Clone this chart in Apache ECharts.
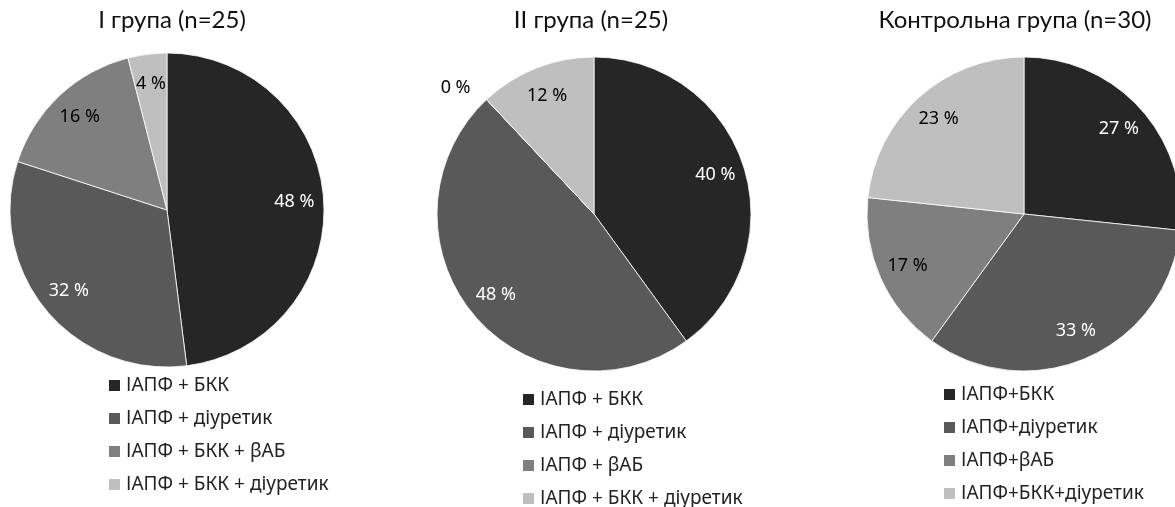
<!DOCTYPE html>
<html>
<head>
<meta charset="utf-8">
<script src="https://cdn.jsdelivr.net/npm/echarts@6/dist/echarts.min.js"></script>
<style>
  html, body { margin: 0; padding: 0; background: #fff; }
  #chart { width: 1175px; height: 507px; }
</style>
</head>
<body>
<div id="chart"></div>
<script>
var titles = ['I група (n=25)', 'II група (n=25)', 'Контрольна група (n=30)'];

var names1 = ['ІАПФ + БКК', 'ІАПФ + діуретик', 'ІАПФ + БКК + βАБ', 'ІАПФ + БКК + діуретик'];
var names2 = ['ІАПФ + БКК', 'ІАПФ + діуретик', 'ІАПФ + βАБ', 'ІАПФ + БКК + діуретик'];
var names3 = ['ІАПФ+БКК', 'ІАПФ+діуретик', 'ІАПФ+βАБ', 'ІАПФ+БКК+діуретик'];

// patient counts per group
var values1 = [12, 8, 4, 1];
var values2 = [10, 12, 0, 3];
var values3 = [8, 10, 5, 7];

var colors = ['#262626', '#595959', '#7f7f7f', '#bfbfbf'];
var labelColors = ['#fff', '#fff', '#000', '#000'];

var groups = [
	{ names: names1, values: values1, center: [167, 210], titleX: 172, legendX: 107, legendY: 376 },
	{ names: names2, values: values2, center: [594, 214], titleX: 591, legendX: 521, legendY: 390 },
	{ names: names3, values: values3, center: [1024, 214], titleX: 1015, legendX: 942, legendY: 385 }
];
var R = 157;

var myChart = echarts.init(document.getElementById('chart'));

var series = [];
var title = [];
var legend = [];

groups.forEach(function (g, i) {
	series.push({
		type: 'pie',
		center: g.center,
		radius: [0, R],
		startAngle: 90,
		clockwise: true,
		label: { show: false },
		labelLine: { show: false },
		itemStyle: { borderColor: '#fff', borderWidth: 0.8 },
		emphasis: { disabled: true },
		data: g.names.map(function (n, k) {
			return { name: n, value: g.values[k], itemStyle: { color: colors[k] } };
		})
	});
	title.push({
		text: titles[i],
		left: g.titleX,
		top: 8,
		padding: 0,
		textAlign: 'center',
		textStyle: { fontFamily: 'Lato', fontWeight: 'normal', fontSize: 24, color: '#111' }
	});
	legend.push({
		orient: 'vertical',
		left: g.legendX,
		top: g.legendY,
		height: 160,
		padding: 0,
		icon: 'rect',
		itemWidth: 13,
		itemHeight: 13,
		itemGap: 14,
		selectedMode: false,
		data: g.names,
		textStyle: { fontFamily: 'Noto Sans', fontSize: 19, color: '#222' }
	});
});

// label rings, placed near the outer part of each slice
groups.forEach(function (g, i) {
	series.push({
		type: 'pie',
		center: g.center,
		radius: [92, R],
		startAngle: 90,
		clockwise: true,
		silent: true,
		percentPrecision: 0,
		itemStyle: { color: 'transparent' },
		emphasis: { disabled: true },
		labelLine: { show: false },
		label: {
			show: true,
			position: 'inside',
			formatter: '{d} %',
			fontFamily: 'Noto Sans',
			fontSize: 18
		},
		data: g.names.map(function (n, k) {
			var item = { name: n, value: g.values[k], label: { color: labelColors[k] } };
			if (g.values[k] === 0) {
				item.label = { color: '#000', position: 'outside' };
				item.labelLine = { show: false, length: 16, length2: 0 };
			}
			return item;
		})
	});
});

myChart.setOption({
	animation: false,
	title: title,
	legend: legend,
	series: series
});
</script>
</body>
</html>
